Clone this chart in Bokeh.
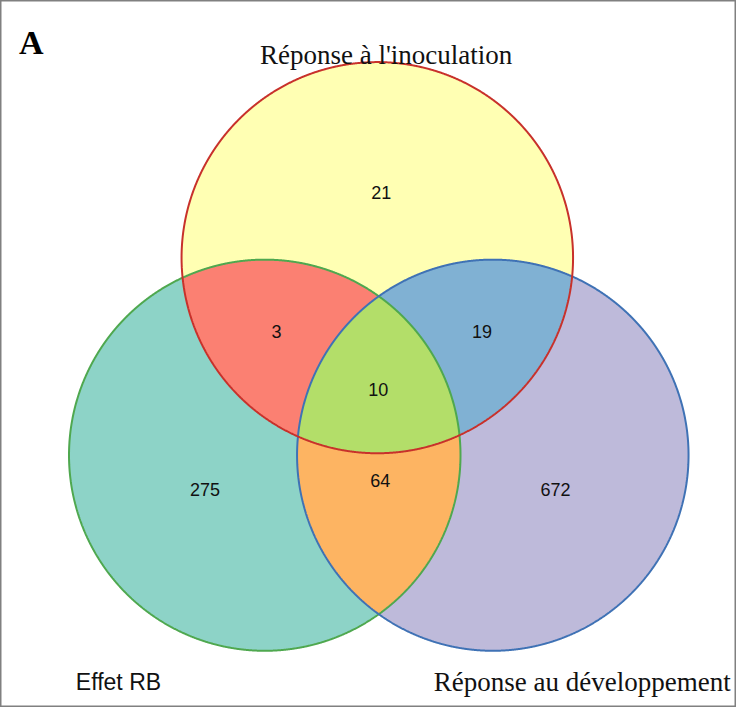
import numpy as np
from bokeh.plotting import figure
from bokeh.models import Range1d, ColumnDataSource
from bokeh.embed import file_html
from bokeh.resources import INLINE
from bokeh.core.properties import value

# ---- data ----
set_names = ["Réponse à l'inoculation", "Effet RB", "Réponse au développement"]
only_counts = [21, 275, 672]            # inoculation only, RB only, développement only
pair_names = ["inoc & RB", "inoc & dev", "RB & dev"]
pair_counts = [3, 19, 64]
triple_count = 10

# ---- styles ----
set_fill = ["#FFFFB3", "#8DD3C7", "#BEBADA"]
set_line = ["#C8312B", "#4FA84F", "#3F72B5"]
pair_fill = ["#FB8072", "#80B1D3", "#FDB462"]
triple_fill = "#B3DE69"

# ---- layout (reference pixel space, 752 x 723) ----
centers = [(385.0, 263.0), (270.0, 465.0), (503.0, 465.0)]
R = 200.0
pairs = [(0, 1), (0, 2), (1, 2)]
only_label_pos = [(389, 196), (209, 500), (567, 500)]
pair_label_pos = [(282, 338), (492, 338), (388, 491)]
triple_label_pos = (386, 398)

p = figure(width=736, height=707, x_range=Range1d(0, 752), y_range=Range1d(723, 0),
           output_backend="svg", toolbar_location=None, min_border=0)
p.axis.visible = False
p.grid.visible = False
p.outline_line_color = "#808080"
p.outline_line_width = 2
p.background_fill_color = "white"


def circle_pts(i, n=2400):
    t = np.linspace(0, 2 * np.pi, n, endpoint=False)
    cx, cy = centers[i]
    return cx + R * np.cos(t), cy + R * np.sin(t)


def inside(i, x, y, tol=0.01):
    cx, cy = centers[i]
    return (x - cx) ** 2 + (y - cy) ** 2 <= (R + tol) ** 2


def intersection_poly(idx):
    xs, ys = [], []
    for i in idx:
        x, y = circle_pts(i)
        m = np.ones_like(x, dtype=bool)
        for j in idx:
            if j != i:
                m &= inside(j, x, y)
        xs.append(x[m]); ys.append(y[m])
    x = np.concatenate(xs); y = np.concatenate(ys)
    mx, my = x.mean(), y.mean()
    order = np.argsort(np.arctan2(y - my, x - mx))
    return list(x[order]), list(y[order])


# base circles
for i in range(3):
    x, y = circle_pts(i)
    p.patch(list(x), list(y), fill_color=set_fill[i], line_color=None)

# pair lenses
for k, (i, j) in enumerate(pairs):
    x, y = intersection_poly([i, j])
    p.patch(x, y, fill_color=pair_fill[k], line_color=None)

# triple
x, y = intersection_poly([0, 1, 2])
p.patch(x, y, fill_color=triple_fill, line_color=None)

# outlines
for i in [1, 2, 0]:
    x, y = circle_pts(i)
    p.patch(list(x), list(y), fill_color=None, line_color=set_line[i], line_width=2)

# counts
lx = [pt[0] for pt in only_label_pos] + [pt[0] for pt in pair_label_pos] + [triple_label_pos[0]]
ly = [pt[1] for pt in only_label_pos] + [pt[1] for pt in pair_label_pos] + [triple_label_pos[1]]
lt = [str(v) for v in only_counts] + [str(v) for v in pair_counts] + [str(triple_count)]
src = ColumnDataSource(dict(x=lx, y=ly, t=lt))
p.text(x="x", y="y", text="t", source=src, text_align="center", text_baseline="middle",
       text_font=value("Liberation Sans"), text_font_size="18px", text_color="#111111")

# set names
p.text(x=[394], y=[56], text=[set_names[0]], text_align="center", text_baseline="alphabetic",
       text_font=value("Liberation Serif"), text_font_size="27px", text_color="#111111")
p.text(x=[77], y=[697], text=[set_names[1]], text_align="left", text_baseline="alphabetic",
       text_font=value("Liberation Sans"), text_font_size="23px", text_color="#111111")
p.text(x=[746], y=[697], text=[set_names[2]], text_align="right", text_baseline="alphabetic",
       text_font=value("Liberation Serif"), text_font_size="27px", text_color="#111111")

# panel letter
p.text(x=[19], y=[43], text=["A"], text_align="left", text_baseline="alphabetic",
       text_font=value("Liberation Serif"), text_font_size="34px", text_font_style="bold",
       text_color="#000000")

open("out.html", "w").write(file_html(p, INLINE))
